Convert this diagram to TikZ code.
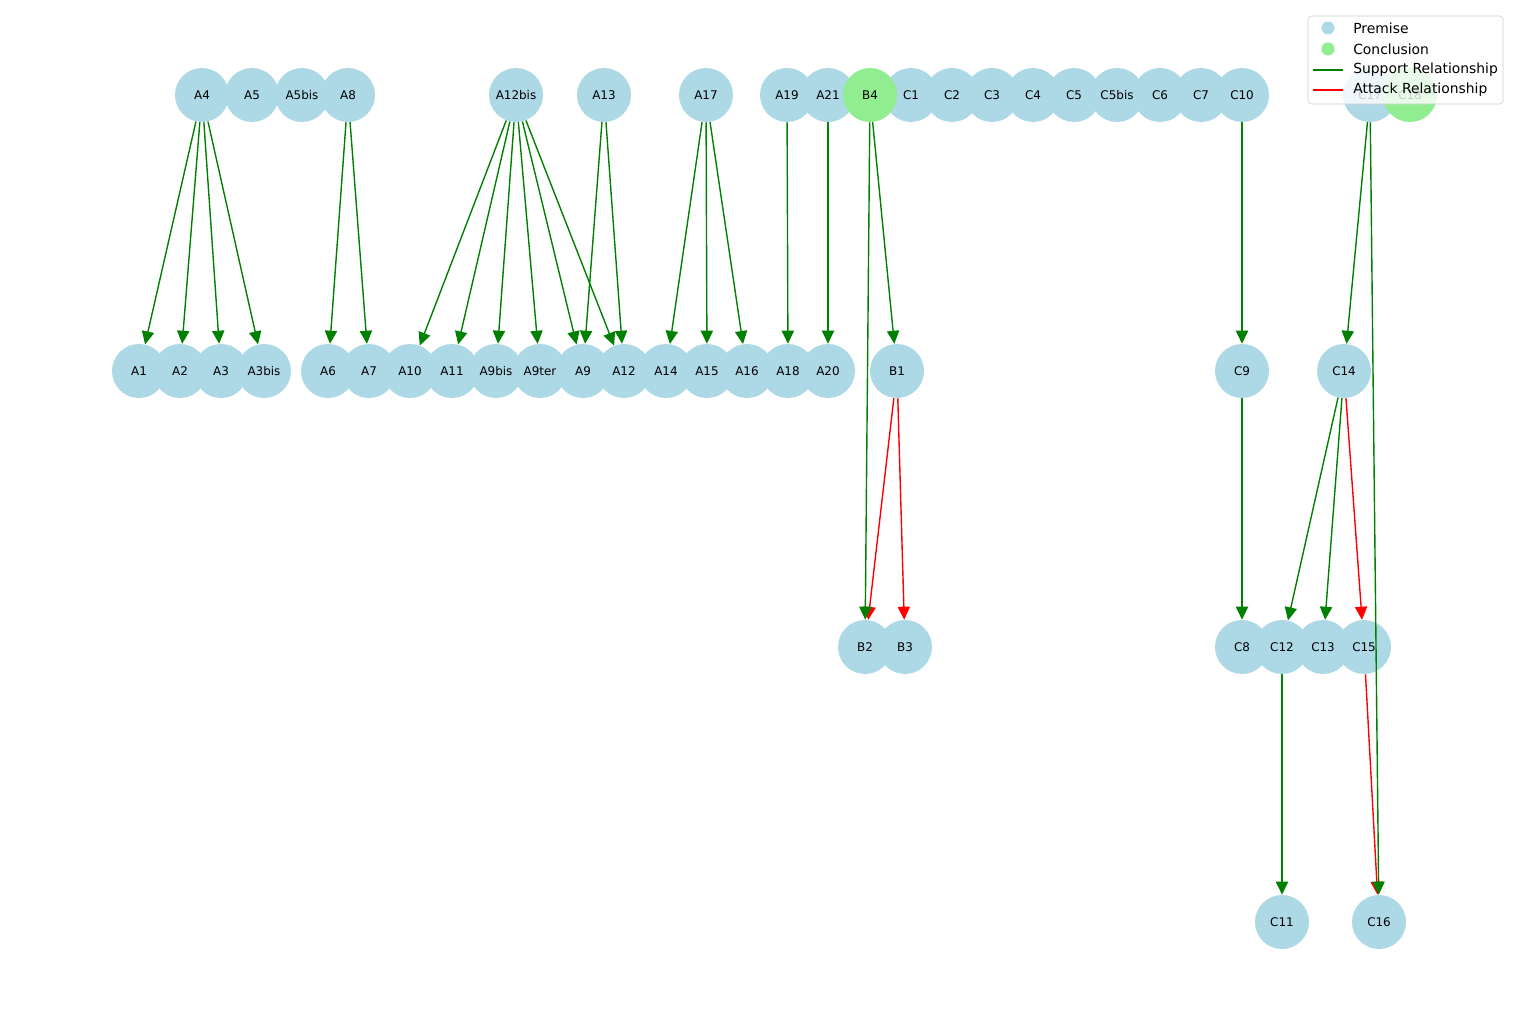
\documentclass[tikz,border=0pt]{standalone}
\usepackage{fontspec}
\setmainfont{DejaVu Sans}
\usepackage{tikz}
\usetikzlibrary{arrows.meta,positioning}
\definecolor{premisecol}{HTML}{ADD8E6}
\definecolor{conclcol}{HTML}{90EE90}
\definecolor{supportcol}{HTML}{008000}
\definecolor{attackcol}{HTML}{FF0000}

\begin{document}
\begin{tikzpicture}[
    x=0.72pt, y=-0.72pt,
    premise/.style={circle, fill=premisecol, minimum size=38.9pt, inner sep=0pt, font=\fontsize{8.6pt}{10pt}\selectfont},
    conclusion/.style={premise, fill=conclcol},
    support/.style={-{Triangle[length=9.4pt, width=8.8pt]}, draw=supportcol, fill=supportcol, line width=1pt},
    attack/.style={support, draw=attackcol, fill=attackcol},
    legtext/.style={anchor=west, inner sep=0pt, font=\fontsize{10pt}{12pt}\selectfont}
]
    \useasboundingbox (0,0) rectangle (1520,1019);

    % top row
    \node[premise] (A4) at (202,95) {A4};
    \node[premise] (A5) at (252,95) {A5};
    \node[premise] (A5bis) at (302,95) {A5bis};
    \node[premise] (A8) at (348,95) {A8};
    \node[premise] (A12bis) at (516,95) {A12bis};
    \node[premise] (A13) at (604,95) {A13};
    \node[premise] (A17) at (706,95) {A17};
    \node[premise] (A19) at (787,95) {A19};
    \node[premise] (A21) at (828,95) {A21};
    \node[premise] (C1) at (911,95) {C1};
    \node[premise] (C2) at (952,95) {C2};
    \node[premise] (C3) at (992,95) {C3};
    \node[premise] (C4) at (1033,95) {C4};
    \node[premise] (C5) at (1074,95) {C5};
    \node[premise] (C5bis) at (1117,95) {C5bis};
    \node[premise] (C6) at (1160,95) {C6};
    \node[premise] (C7) at (1201,95) {C7};
    \node[premise] (C10) at (1242,95) {C10};
    \node[premise] (C17) at (1370,95) {C17};

    % second row
    \node[premise] (A1) at (139,371) {A1};
    \node[premise] (A2) at (180,371) {A2};
    \node[premise] (A3) at (221,371) {A3};
    \node[premise] (A3bis) at (264,371) {A3bis};
    \node[premise] (A6) at (328,371) {A6};
    \node[premise] (A7) at (369,371) {A7};
    \node[premise] (A10) at (410,371) {A10};
    \node[premise] (A11) at (452,371) {A11};
    \node[premise] (A9bis) at (496,371) {A9bis};
    \node[premise] (A9ter) at (540,371) {A9ter};
    \node[premise] (A9) at (583,371) {A9};
    \node[premise] (A12) at (624,371) {A12};
    \node[premise] (A14) at (666,371) {A14};
    \node[premise] (A15) at (707,371) {A15};
    \node[premise] (A16) at (747,371) {A16};
    \node[premise] (A18) at (788,371) {A18};
    \node[premise] (A20) at (828,371) {A20};
    \node[premise] (B1) at (897,371) {B1};
    \node[premise] (C9) at (1242,371) {C9};
    \node[premise] (C14) at (1344,371) {C14};

    % third and fourth rows
    \node[premise] (B2) at (865,647) {B2};
    \node[premise] (B3) at (905,647) {B3};
    \node[premise] (C8) at (1242,647) {C8};
    \node[premise] (C12) at (1282,647) {C12};
    \node[premise] (C13) at (1323,647) {C13};
    \node[premise] (C15) at (1364,647) {C15};
    \node[premise] (C11) at (1282,922) {C11};
    \node[premise] (C16) at (1379,922) {C16};

    % conclusions
    \node[conclusion] (B4) at (870,95) {B4};
    \node[conclusion] (C18) at (1410,95) {C18};

    % support
    \draw[support] (A4) -- (A1);
    \draw[support] (A4) -- (A2);
    \draw[support] (A4) -- (A3);
    \draw[support] (A4) -- (A3bis);
    \draw[support] (A8) -- (A6);
    \draw[support] (A8) -- (A7);
    \draw[support] (A12bis) -- (A10);
    \draw[support] (A12bis) -- (A11);
    \draw[support] (A12bis) -- (A9bis);
    \draw[support] (A12bis) -- (A9ter);
    \draw[support] (A12bis) -- (A9);
    \draw[support] (A12bis) -- (A12);
    \draw[support] (A13) -- (A9);
    \draw[support] (A13) -- (A12);
    \draw[support] (A17) -- (A14);
    \draw[support] (A17) -- (A15);
    \draw[support] (A17) -- (A16);
    \draw[support] (A19) -- (A18);
    \draw[support] (A21) -- (A20);
    \draw[support] (B4) -- (B1);
    \draw[support] (C10) -- (C9);
    \draw[support] (C9) -- (C8);
    \draw[support] (C17) -- (C14);
    \draw[support] (C14) -- (C12);
    \draw[support] (C14) -- (C13);
    \draw[support] (C12) -- (C11);

    % attack
    \draw[attack] (B1) -- (B2);
    \draw[attack] (B1) -- (B3);
    \draw[attack] (C14) -- (C15);
    \draw[attack] (C15) -- (C16);
    \draw[support] (B4) -- (B2);
    \draw[support] (C17) -- (C16);

    % legend
    \draw[draw=black!20, fill=white, fill opacity=0.8, rounded corners=2.5pt] (1308,16) rectangle (1503,104);
    \node[circle, fill=premisecol, minimum size=9.4pt, inner sep=0pt] (mprem) at (1328,28) {};
    \node[circle, fill=conclcol, minimum size=9.4pt, inner sep=0pt] (mconc) at (1328,49) {};
    \draw[supportcol, line width=1.45pt] (1313,70) -- (1343,70);
    \draw[attackcol, line width=1.45pt] (1313,90) -- (1343,90);
    \node[legtext] (lprem) at (1353,28) {Premise};
    \node[legtext] (lconc) at (1353,49) {Conclusion};
    \node[legtext] (lsup) at (1353,70) {Support Relationship};
    \node[legtext] (latt) at (1353,90) {Attack Relationship};
\end{tikzpicture}
\end{document}
